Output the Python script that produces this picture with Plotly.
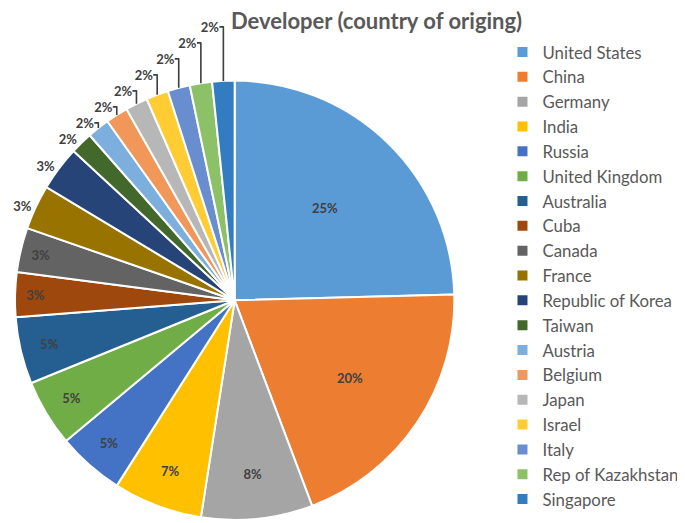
import plotly.graph_objects as go

# Developer counts by country of origin (61 total)
countries = [
    "United States", "China", "Germany", "India", "Russia", "United Kingdom",
    "Australia", "Cuba", "Canada", "France", "Republic of Korea", "Taiwan",
    "Austria", "Belgium", "Japan", "Israel", "Italy", "Rep of Kazakhstan",
    "Singapore",
]
counts = [15, 12, 5, 4, 3, 3, 3, 2, 2, 2, 2, 1, 1, 1, 1, 1, 1, 1, 1]

# Excel-like office palette
colors = [
    "#5B9BD5", "#ED7D31", "#A5A5A5", "#FFC000", "#4472C4", "#70AD47",
    "#255E91", "#9E480E", "#636363", "#997300", "#264478", "#43682B",
    "#7CAFDD", "#F1975A", "#B7B7B7", "#FFCD33", "#698ED0", "#8CC168",
    "#327DC2",
]

text_pos = ["inside" if c >= 3 else ("inside" if c == 2 and i < 9 else "outside")
            for i, c in enumerate(counts)]

fig = go.Figure()
fig.add_trace(
    go.Pie(
        labels=countries,
        values=counts,
        sort=False,
        direction="clockwise",
        rotation=0,
        marker={"colors": colors, "line": {"color": "white", "width": 2}},
        texttemplate="%{percent:.0%}",
        textposition=text_pos,
        insidetextorientation="horizontal",
        textfont={"family": "Lato", "size": 13, "color": "#404040", "weight": "bold"},
        outsidetextfont={"family": "Lato", "size": 13, "color": "#404040", "weight": "bold"},
        domain={"x": [0.0, 0.648], "y": [0.0, 0.88]},
        hoverinfo="label+percent",
    )
)

fig.update_layout(
    title={
        "text": "<b>Developer (country of origing)</b>",
        "font": {"family": "Lato", "size": 22, "color": "#595959"},
        "x": 0.538,
        "xanchor": "center",
        "y": 0.99,
        "yanchor": "top",
    },
    legend={
        "x": 0.719,
        "xanchor": "left",
        "y": 0.958,
        "yanchor": "top",
        "font": {"family": "Lato", "size": 16.8, "color": "#595959"},
        "itemwidth": 30,
    },
    width=685,
    height=523,
    margin={"t": 0, "b": 0, "l": 0, "r": 0},
    plot_bgcolor="white",
    paper_bgcolor="white",
)

fig.write_html("out.html")
